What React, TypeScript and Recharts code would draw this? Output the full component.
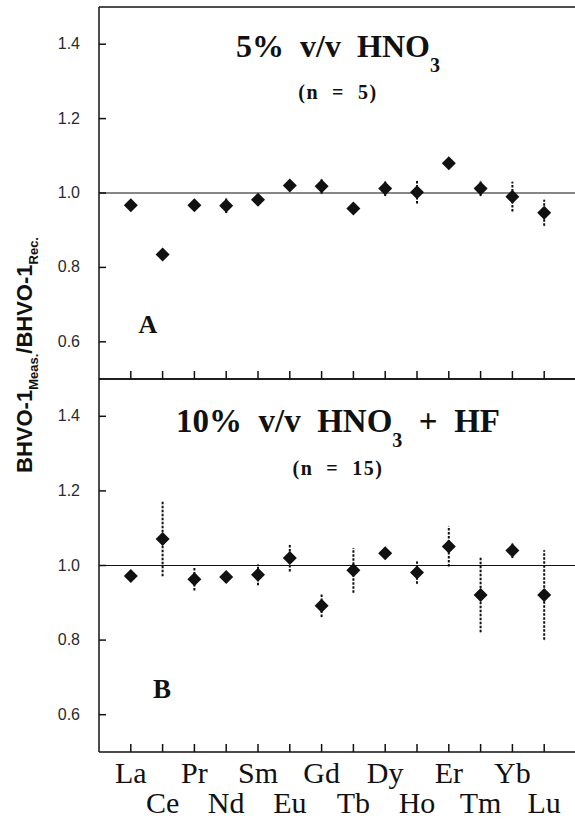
import React from 'react';
import { ScatterChart, Scatter, XAxis, YAxis, ReferenceLine, ErrorBar } from 'recharts';

// rare earth elements, La..Lu
const ELEMENTS = ['La', 'Ce', 'Pr', 'Nd', 'Sm', 'Eu', 'Gd', 'Tb', 'Dy', 'Ho', 'Er', 'Tm', 'Yb', 'Lu'];
const X_TICKS = [1, 2, 3, 4, 5, 6, 7, 8, 9, 10, 11, 12, 13, 14];
const Y_TICKS = [0.6, 0.8, 1.0, 1.2, 1.4];

// panel A: 5% v/v HNO3 (n = 5)
const RATIO_A = [0.967, 0.835, 0.967, 0.966, 0.982, 1.02, 1.018, 0.958, 1.012, 1.002, 1.08, 1.012, 0.99, 0.947];
const ERR_A = [0.01, 0.01, 0.01, 0.02, 0.015, 0.015, 0.02, 0.01, 0.02, 0.03, 0.01, 0.02, 0.04, 0.035];

// panel B: 10% v/v HNO3 + HF (n = 15)
const RATIO_B = [0.972, 1.071, 0.963, 0.969, 0.975, 1.02, 0.892, 0.987, 1.033, 0.981, 1.051, 0.921, 1.04, 0.921];
const ERR_B = [0.01, 0.1, 0.03, 0.015, 0.028, 0.036, 0.03, 0.06, 0.015, 0.03, 0.054, 0.1, 0.02, 0.12];

const INK = '#111';
const SERIF = "'Liberation Serif', 'Times New Roman', serif";
const SANS = "'Liberation Sans', Arial, sans-serif";

const dataA = ELEMENTS.map((el, i) => ({ el, x: X_TICKS[i], y: RATIO_A[i], err: ERR_A[i] }));
const dataB = ELEMENTS.map((el, i) => ({ el, x: X_TICKS[i], y: RATIO_B[i], err: ERR_B[i] }));

const Diamond = (props: any) => {
  const { cx, cy } = props;
  if (cx == null || cy == null) return null;
  const r = 7;
  return <polygon points={`${cx},${cy - r} ${cx + r},${cy} ${cx},${cy + r} ${cx - r},${cy}`} fill={INK} />;
};

// inward tick marks on the x axes, optional staggered element labels
const xTick = (dir: number, labels: boolean) => (props: any) => {
  const { x, y, payload } = props;
  const i = payload.value - 1;
  return (
    <g>
      <line x1={x} y1={y} x2={x} y2={y + dir * 8} stroke={INK} strokeWidth={1.5} />
      {labels && (
        <text x={x} y={y + (i % 2 === 0 ? 31 : 61)} textAnchor="middle" fontFamily={SERIF} fontSize={30} fill={INK}>
          {ELEMENTS[i]}
        </text>
      )}
    </g>
  );
};

const leftTick = (props: any) => {
  const { x, y, payload } = props;
  return (
    <g>
      <line x1={x} y1={y} x2={x + 7} y2={y} stroke={INK} strokeWidth={1.5} />
      <text x={x - 19} y={y + 5} textAnchor="end" fontFamily={SANS} fontSize={16} fill="#2a2a2a">
        {Number(payload.value).toFixed(1)}
      </text>
    </g>
  );
};

const rightTick = (props: any) => {
  const { x, y } = props;
  return <line x1={x} y1={y} x2={x - 8} y2={y} stroke={INK} strokeWidth={1.5} />;
};

const axisLine = { stroke: INK, strokeWidth: 1.5 };

const Panel = ({ data, height, margin, topTicks }: any) => (
  <ScatterChart width={580} height={height} margin={margin}>
    <XAxis
      type="number" dataKey="x" domain={[0, 15]} ticks={X_TICKS} interval={0}
      height={1} tickSize={0} tickMargin={0} tickLine={false} axisLine={axisLine}
      tick={xTick(-1, !topTicks)}
    />
    <XAxis
      xAxisId="top" orientation="top" type="number" domain={[0, 15]} ticks={X_TICKS} interval={0}
      height={1} tickSize={0} tickMargin={0} tickLine={false} axisLine={axisLine}
      tick={topTicks ? xTick(1, false) : false}
    />
    <YAxis
      type="number" dataKey="y" domain={[0.5, 1.5]} ticks={Y_TICKS} interval={0}
      width={1} tickSize={0} tickMargin={0} tickLine={false} axisLine={axisLine} tick={leftTick}
    />
    <YAxis
      yAxisId="right" orientation="right" type="number" domain={[0.5, 1.5]} ticks={Y_TICKS} interval={0}
      width={1} tickSize={0} tickMargin={0} tickLine={false} axisLine={false} tick={rightTick}
    />
    <ReferenceLine y={1} stroke={INK} strokeWidth={1.2} />
    <Scatter data={data} shape={Diamond} fill={INK} isAnimationActive={false}>
      <ErrorBar dataKey="err" direction="y" width={0} stroke={INK} strokeWidth={2} strokeDasharray="2.5 1.5" isAnimationActive={false} />
    </Scatter>
  </ScatterChart>
);

export default function App() {
  return (
    <div style={{ position: 'absolute', left: 0, top: 0, width: 575, height: 822, overflow: 'hidden', background: '#fff' }}>
      <div style={{ position: 'absolute', left: 0, top: 0 }}>
        <Panel data={dataA} height={380} margin={{ top: 6, right: 3, bottom: 0, left: 98 }} topTicks />
      </div>
      <div style={{ position: 'absolute', left: 0, top: 378 }}>
        <Panel data={dataB} height={444} margin={{ top: 0, right: 3, bottom: 69, left: 98 }} topTicks={false} />
      </div>
      <svg width={575} height={822} style={{ position: 'absolute', left: 0, top: 0, pointerEvents: 'none' }}>
        <text x={338} y={57} textAnchor="middle" fontFamily={SERIF} fontWeight="bold" fontSize={32} fill={INK}>
          {'5%\u00A0 v/v\u00A0 HNO'}
          <tspan dy={15} fontSize={20}>3</tspan>
        </text>
        <text x={338} y={99} textAnchor="middle" fontFamily={SERIF} fontWeight="bold" fontSize={20} letterSpacing={1.5} fill={INK}>
          {'(n\u00A0 =\u00A0 5)'}
        </text>
        <text x={338} y={432} textAnchor="middle" fontFamily={SERIF} fontWeight="bold" fontSize={33} fill={INK}>
          {'10%\u00A0 v/v\u00A0 HNO'}
          <tspan dy={15} fontSize={20}>3</tspan>
          <tspan dy={-15}>{'\u00A0 +\u00A0 HF'}</tspan>
        </text>
        <text x={338} y={475} textAnchor="middle" fontFamily={SERIF} fontWeight="bold" fontSize={20} letterSpacing={1.5} fill={INK}>
          {'(n\u00A0 =\u00A0 15)'}
        </text>
        <text x={148} y={333} textAnchor="middle" fontFamily={SERIF} fontWeight="bold" fontSize={26} fill={INK}>A</text>
        <text x={162} y={698} textAnchor="middle" fontFamily={SERIF} fontWeight="bold" fontSize={27} fill={INK}>B</text>
        <text x={32} y={355} transform="rotate(-90, 32, 355)" textAnchor="middle" fontFamily={SANS} fontWeight="bold" fontSize={22} fill={INK}>
          BHVO-1
          <tspan dy={6} fontSize={13}>Meas.</tspan>
          <tspan dy={-6}>/BHVO-1</tspan>
          <tspan dy={6} fontSize={13}>Rec.</tspan>
        </text>
      </svg>
    </div>
  );
}
